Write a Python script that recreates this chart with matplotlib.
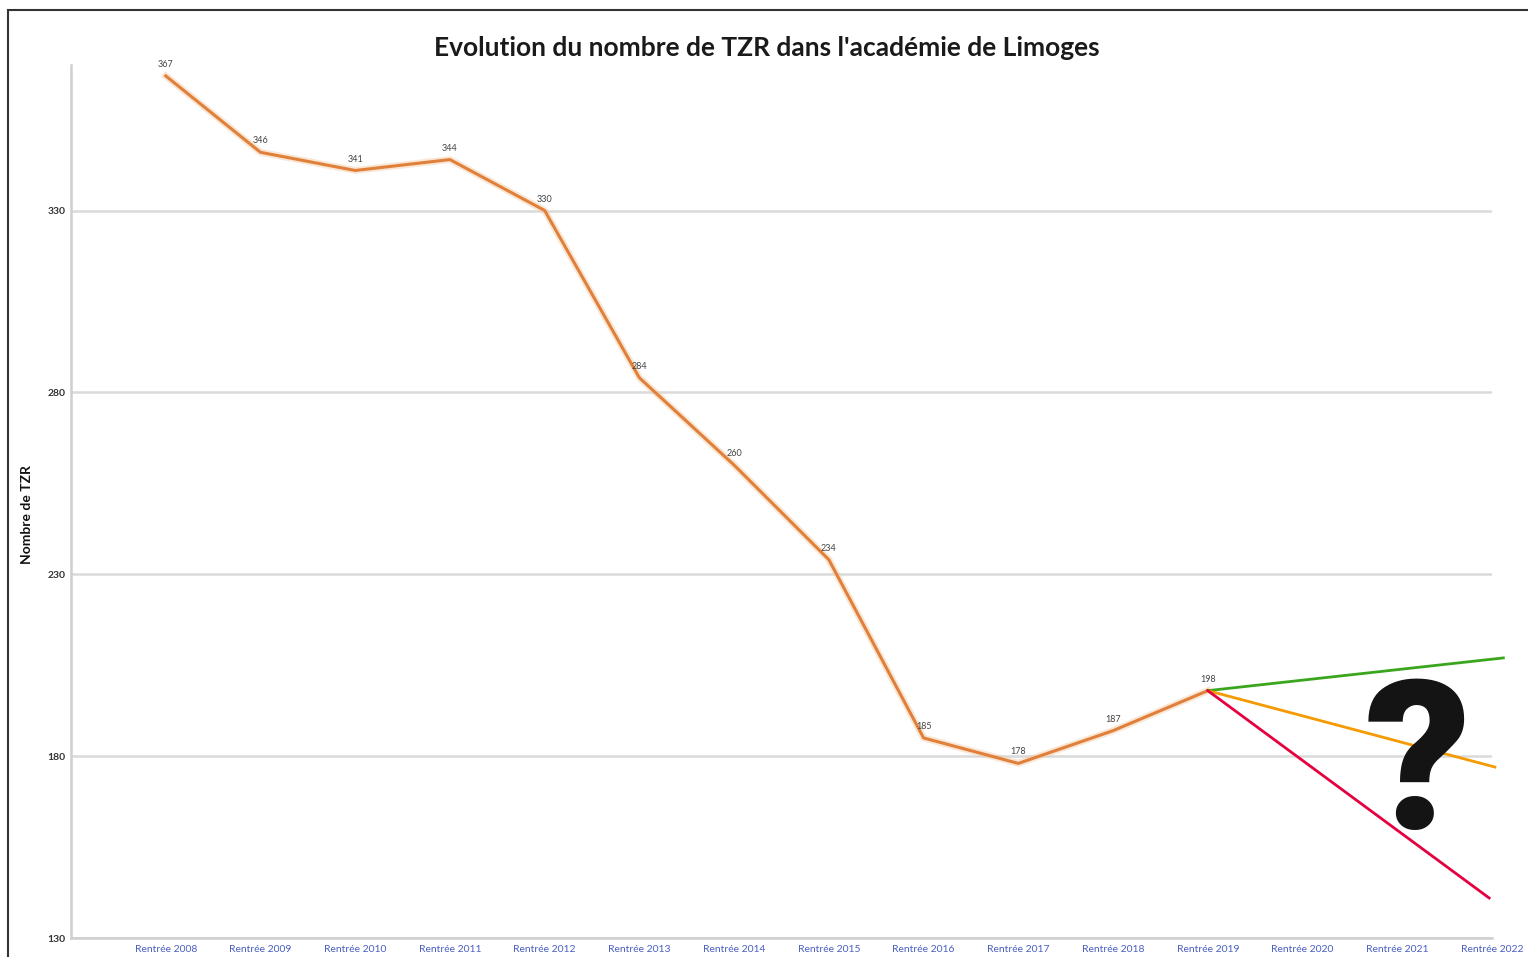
import matplotlib.pyplot as plt
from matplotlib.patches import Rectangle

years = ["Rentrée 2008", "Rentrée 2009", "Rentrée 2010", "Rentrée 2011", "Rentrée 2012",
         "Rentrée 2013", "Rentrée 2014", "Rentrée 2015", "Rentrée 2016", "Rentrée 2017",
         "Rentrée 2018", "Rentrée 2019", "Rentrée 2020", "Rentrée 2021", "Rentrée 2022"]
tzr = [367, 346, 341, 344, 330, 284, 260, 234, 185, 178, 187, 198]

# scenarios drawn by hand from 2019 towards 2022
proj_start = 11
proj_high = (14.12, 207)
proj_mid = (14.03, 177)
proj_low = (13.97, 141)

fig = plt.figure(figsize=(15.28, 9.57), dpi=100)
ax = fig.add_axes([71 / 1528, 1 - 938 / 957, (1492 - 71) / 1528, (938 - 65) / 957])

x = list(range(len(tzr)))
ax.plot(x, tzr, color="#f3c9a0", lw=5, alpha=0.45, solid_joinstyle="round")
ax.plot(x, tzr, color="#e0803a", lw=2.2, solid_joinstyle="round", zorder=3)
for xi, v in zip(x, tzr):
    ax.annotate(str(v), (xi, v), xytext=(0, 5), textcoords="offset points",
                ha="center", va="bottom", fontsize=6.5, color="#444444", family="Lato")

for (xe, val), col in [(proj_high, "#3aa61e"), (proj_mid, "#f59a00"), (proj_low, "#e5003f")]:
    ax.plot([proj_start, xe], [tzr[proj_start], val], color=col, lw=2, clip_on=False, zorder=4)

ax.set_xlim(-1, 14)
ax.set_ylim(130, 370)
ax.set_yticks([130, 180, 230, 280, 330])
ax.set_xticks(range(len(years)))
ax.set_xticklabels(years, color="#4a5fc0", fontsize=7.5, family="Lato")
for lab in ax.get_yticklabels():
    lab.set_fontsize(7.5)
    lab.set_fontweight("bold")
    lab.set_color("#333333")
    lab.set_family("Lato")
ax.tick_params(axis="x", length=0, pad=5)
ax.tick_params(axis="y", length=0, pad=4)
ax.grid(axis="y", color="#dadada", lw=1.8)
ax.set_axisbelow(True)
for s in ["top", "right"]:
    ax.spines[s].set_visible(False)
ax.spines["left"].set_color("#cfcfcf")
ax.spines["left"].set_linewidth(1.8)
ax.spines["bottom"].set_color("#cfcfcf")
ax.spines["bottom"].set_linewidth(1.8)

fig.text(27 / 1528, 1 - 515 / 957, "Nombre de TZR", rotation=90, ha="center", va="center",
         fontsize=10, fontweight="bold", family="Lato", color="#111111")
fig.text(767 / 1528, 1 - 48 / 957, "Evolution du nombre de TZR dans l'académie de Limoges",
         ha="center", va="center", fontsize=19, fontweight="bold", family="Lato", color="#1a1a1a")

fig.text(1418 / 1528, 1 - 772 / 957, "?", ha="center", va="center", fontsize=150,
         fontweight="heavy", family="Roboto", color="#141414")

fig.patches.append(Rectangle((8 / 1528, -0.05), 1.1, 1 - 10 / 957 + 0.05, transform=fig.transFigure,
                             fill=False, edgecolor="#333333", lw=1.5, zorder=10))

fig.savefig("out.png", dpi=100)
